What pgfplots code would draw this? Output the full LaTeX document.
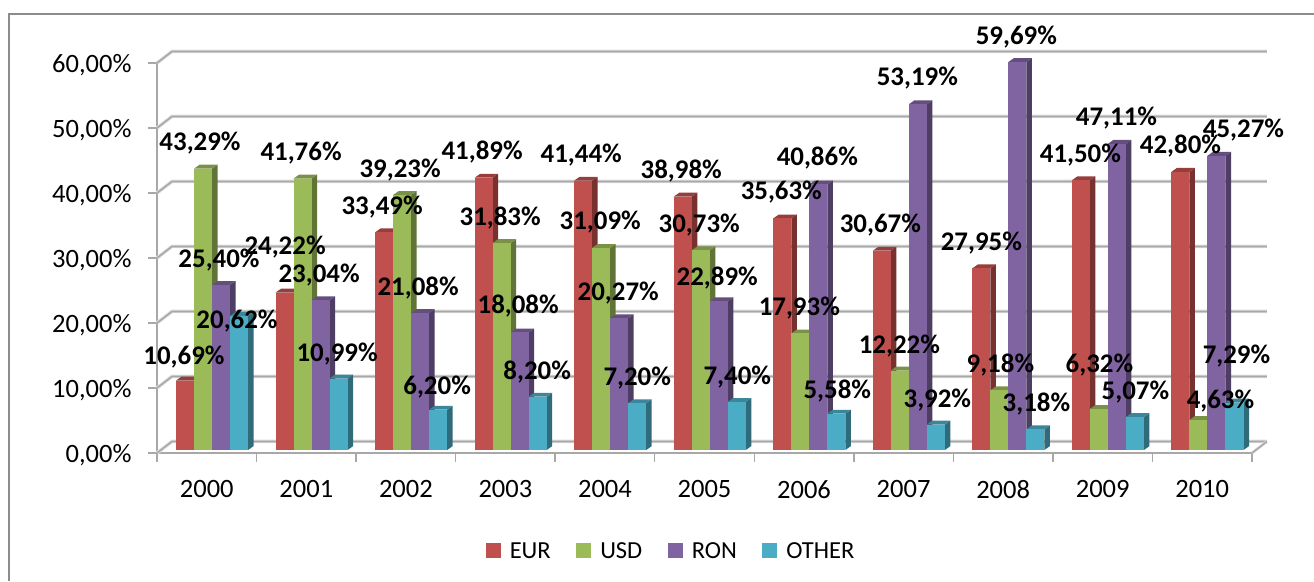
\documentclass[border=0pt]{standalone}
\usepackage{pgfplots}
\pgfplotsset{compat=1.18}
\usepackage{fontspec}
\setmainfont{Carlito}
\definecolor{cEUR}{HTML}{C0504D}
\definecolor{cUSD}{HTML}{9BBB59}
\definecolor{cRON}{HTML}{8064A2}
\definecolor{cOTH}{HTML}{4BACC6}
\definecolor{gridc}{HTML}{A8A8A8}
\definecolor{gridl}{HTML}{DEDEDE}
% one 3D bar: #1 year index, #2 position in group, #3 value, #4 colour
\newcommand\threedbar[4]{%
  \pgfmathsetmacro\xa{#1+(19+18*#2)/99.5}%
  \pgfmathsetmacro\xb{\xa+18/99.5}%
  \pgfmathsetmacro\xc{\xb+5.5/99.5}%
  \pgfmathsetmacro\xd{\xa+5.5/99.5}%
  \pgfmathsetmacro\ya{0.46}%
  \pgfmathsetmacro\yb{#3+0.46}%
  \pgfmathsetmacro\yc{\ya+0.6}%
  \pgfmathsetmacro\yd{\yb+0.6}%
  \edef\temp{%
    \noexpand\addplot[forget plot,draw=none,fill=#4!62!black] coordinates {(\xb,\ya)(\xc,\yc)(\xc,\yd)(\xb,\yb)} --cycle;
    \noexpand\addplot[forget plot,draw=none,fill=#4!78!black] coordinates {(\xa,\yb)(\xd,\yd)(\xc,\yd)(\xb,\yb)} --cycle;
    \noexpand\addplot[forget plot,draw=none,fill=#4] coordinates {(\xa,\ya)(\xb,\ya)(\xb,\yb)(\xa,\yb)} --cycle;
  }\temp}
% data label centred at pixel position (#1,#2)
\newcommand\lab[3]{%
  \pgfmathsetmacro\lx{(#1-157)/99.5}%
  \pgfmathsetmacro\ly{(452-#2)/6.5}%
  \edef\temp{\noexpand\node[font=\noexpand\labfont,inner sep=0pt,anchor=center,text=black] at (axis cs:\lx,\ly) {\unexpanded{#3\%}};}\temp}
\newcommand\labfont{\fontsize{26.9}{28}\selectfont\bfseries}
% wall gridline
\newcommand\wall[1]{%
  \pgfmathsetmacro\yy{#1+1.77}%
  \edef\temp{%
    \noexpand\addplot[forget plot,gridl,line width=3.5pt] coordinates {(0,#1)(0.15,\yy)(11.15,\yy)};
    \noexpand\addplot[forget plot,gridc,line width=1.6pt] coordinates {(0,#1)(0.15,\yy)(11.15,\yy)};
  }\temp}
\begin{document}
\begin{tikzpicture}[x=1pt,y=1pt]
\path[use as bounding box] (-157,-128) rectangle (1157,453);
\draw[color=gray!90,line width=1.5pt] (-148,-128) -- (-148,439) -- (1157,439);
\begin{axis}[
  at={(0,0)},anchor=origin,
  scale only axis,width=1095pt,height=390pt,
  xmin=0,xmax=11,ymin=0,ymax=60,
  clip=false,
  axis x line*=bottom,axis y line*=left,
  axis line style={gridc,line width=1.6pt,-},
  tick align=outside,
  major tick length=9pt,
  tick style={gridc,line width=1.5pt},
  xtick={0.5,1.5,2.5,3.5,4.5,5.5,6.5,7.5,8.5,9.5,10.5},
  xticklabels={2000,2001,2002,2003,2004,2005,2006,2007,2008,2009,2010},
  x tick style={draw=none},
  extra x ticks={0,1,2,3,4,5,6,7,8,9,10,11},
  extra x tick labels={},
  extra x tick style={x tick style={draw=gridc,line width=1.5pt},tick style={draw=gridc}},
  ytick={0,10,20,30,40,50,60},
  yticklabels={{0,00\%},{10,00\%},{20,00\%},{30,00\%},{40,00\%},{50,00\%},{60,00\%}},
  tick label style={font=\fontsize{26.5}{28}\selectfont,text=black},
  xticklabel style={yshift=-15pt},
  yticklabel style={xshift=-13pt,yshift=-2.5pt},
  legend style={at={(0.4695,-0.2510)},anchor=center,draw=none,fill=none,
    legend columns=-1,font=\fontsize{24.5}{26}\selectfont,
    /tikz/every even column/.append style={column sep=23.5pt},
    /tikz/every odd column/.append style={column sep=7pt},
    inner sep=0pt,outer sep=0pt},
  legend image code/.code={\path[#1,draw=none] (0pt,-7.5pt) rectangle (15pt,7.5pt);},
]
\addlegendimage{fill=cEUR}\addlegendentry{EUR}
\addlegendimage{fill=cUSD}\addlegendentry{USD}
\addlegendimage{fill=cRON}\addlegendentry{RON}
\addlegendimage{fill=cOTH}\addlegendentry{OTHER}
\wall{0}\wall{10}\wall{20}\wall{30}\wall{40}\wall{50}\wall{60}
\addplot[forget plot,gridl,line width=3pt] coordinates {(11,0)(11.15,1.77)};
\addplot[forget plot,gridc,line width=1.5pt] coordinates {(11,0)(11.15,1.77)};
% 2000
\threedbar{0}{0}{10.69}{cEUR}\threedbar{0}{1}{43.29}{cUSD}\threedbar{0}{2}{25.40}{cRON}\threedbar{0}{3}{20.62}{cOTH}
% 2001
\threedbar{1}{0}{24.22}{cEUR}\threedbar{1}{1}{41.76}{cUSD}\threedbar{1}{2}{23.04}{cRON}\threedbar{1}{3}{10.99}{cOTH}
% 2002
\threedbar{2}{0}{33.49}{cEUR}\threedbar{2}{1}{39.23}{cUSD}\threedbar{2}{2}{21.08}{cRON}\threedbar{2}{3}{6.20}{cOTH}
% 2003
\threedbar{3}{0}{41.89}{cEUR}\threedbar{3}{1}{31.83}{cUSD}\threedbar{3}{2}{18.08}{cRON}\threedbar{3}{3}{8.20}{cOTH}
% 2004
\threedbar{4}{0}{41.44}{cEUR}\threedbar{4}{1}{31.09}{cUSD}\threedbar{4}{2}{20.27}{cRON}\threedbar{4}{3}{7.20}{cOTH}
% 2005
\threedbar{5}{0}{38.98}{cEUR}\threedbar{5}{1}{30.73}{cUSD}\threedbar{5}{2}{22.89}{cRON}\threedbar{5}{3}{7.40}{cOTH}
% 2006
\threedbar{6}{0}{35.63}{cEUR}\threedbar{6}{1}{17.93}{cUSD}\threedbar{6}{2}{40.86}{cRON}\threedbar{6}{3}{5.58}{cOTH}
% 2007
\threedbar{7}{0}{30.67}{cEUR}\threedbar{7}{1}{12.22}{cUSD}\threedbar{7}{2}{53.19}{cRON}\threedbar{7}{3}{3.92}{cOTH}
% 2008
\threedbar{8}{0}{27.95}{cEUR}\threedbar{8}{1}{9.18}{cUSD}\threedbar{8}{2}{59.69}{cRON}\threedbar{8}{3}{3.18}{cOTH}
% 2009
\threedbar{9}{0}{41.50}{cEUR}\threedbar{9}{1}{6.32}{cUSD}\threedbar{9}{2}{47.11}{cRON}\threedbar{9}{3}{5.07}{cOTH}
% 2010
\threedbar{10}{0}{42.80}{cEUR}\threedbar{10}{1}{4.63}{cUSD}\threedbar{10}{2}{45.27}{cRON}\threedbar{10}{3}{7.29}{cOTH}
% labels
\lab{184}{356}{10,69}\lab{200}{142}{43,29}\lab{219}{259}{25,40}\lab{237}{320}{20,62}
\lab{285}{246}{24,22}\lab{301}{152}{41,76}\lab{319}{274}{23,04}\lab{337}{353}{10,99}
\lab{382}{206}{33,49}\lab{400}{169}{39,23}\lab{418}{287}{21,08}\lab{437}{386}{6,20}
\lab{482}{151}{41,89}\lab{500}{217}{31,83}\lab{518}{305}{18,08}\lab{537}{371}{8,20}
\lab{581}{154}{41,44}\lab{600}{221}{31,09}\lab{618}{292}{20,27}\lab{637}{377}{7,20}
\lab{681}{170}{38,98}\lab{699}{224}{30,73}\lab{717}{277}{22,89}\lab{737}{376}{7,40}
\lab{781}{191}{35,63}\lab{799}{307}{17,93}\lab{817}{157}{40,86}\lab{837}{390}{5,58}
\lab{880}{224}{30,67}\lab{899}{345}{12,22}\lab{917}{77}{53,19}\lab{937}{399}{3,92}
\lab{981}{242}{27,95}\lab{1000}{364}{9,18}\lab{1016}{36}{59,69}\lab{1036}{403}{3,18}
\lab{1080}{154}{41,50}\lab{1099}{364}{6,32}\lab{1116}{117}{47,11}\lab{1135}{391}{5,07}
\lab{1180}{145}{42,80}\lab{1220}{400}{4,63}\lab{1243}{129}{45,27}\lab{1236}{355}{7,29}
\end{axis}
\end{tikzpicture}
\end{document}
